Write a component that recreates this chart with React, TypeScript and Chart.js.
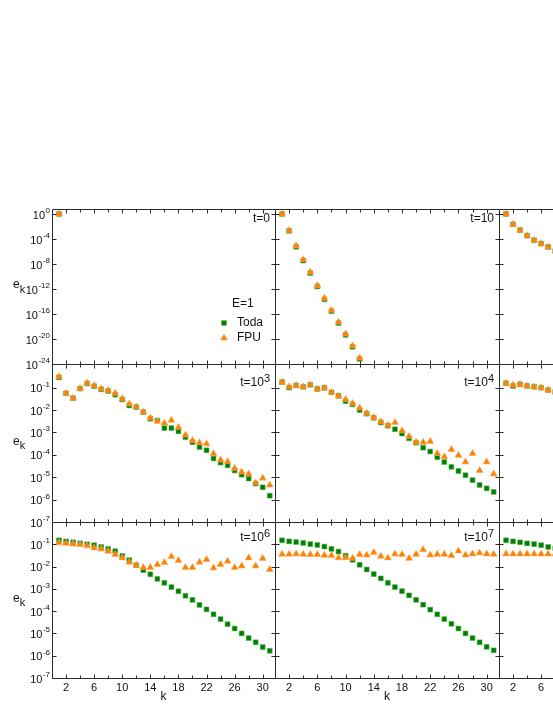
import React, { useEffect, useRef } from "react";
import { Chart, registerables } from "chart.js";

Chart.register(...registerables);

const FONT = '"Liberation Sans", Arial, Helvetica, sans-serif';

// ---------- data ----------
const modes = [1, 2, 3, 4, 5, 6, 7, 8, 9, 10, 11, 12, 13, 14, 15, 16, 17, 18, 19, 20, 21, 22, 23, 24, 25, 26, 27, 28, 29, 30, 31];

const xTickLabels = [2, 6, 10, 14, 18, 22, 26, 30];
const xMinorTicks = [4, 8, 12, 16, 20, 24, 28];
const topRowDecades = [0, -4, -8, -12, -16, -20, -24];
const lowerRowDecades = [-1, -2, -3, -4, -5, -6, -7];

const todaT0 = [1.0];
const fpuT0 = [1.0];

const todaT10 = [1.0, 2.0e-3, 5.6e-6, 3.5e-8, 3.5e-10, 2.5e-12, 2.2e-14, 2.8e-16, 3.5e-18, 4.5e-20, 5.6e-22, 6.3e-24];
const fpuT10 = [1.0, 2.2e-3, 7.9e-6, 5.0e-8, 5.0e-10, 3.5e-12, 3.2e-14, 4.0e-16, 5.0e-18, 6.3e-20, 7.9e-22, 8.9e-24];

const todaT1e2 = [1.0, 2.2e-2, 2.5e-3, 3.4e-4, 6.3e-5, 1.8e-5, 5.2e-6, 1.2e-6];
const fpuT1e2 = [1.0, 2.2e-2, 2.5e-3, 3.4e-4, 6.3e-5, 1.8e-5, 5.2e-6, 1.2e-6];

const todaT1e3 = [2.9e-1, 5.6e-2, 3.4e-2, 9.1e-2, 1.55e-1, 1.17e-1, 8.5e-2, 7.1e-2, 4.9e-2, 3.0e-2, 1.6e-2, 1.35e-2, 8.1e-3, 4.1e-3, 3.4e-3, 1.58e-3, 1.58e-3, 1.12e-3, 6.2e-4, 3.7e-4, 2.24e-4, 1.6e-4, 6.9e-5, 4.5e-5, 3.4e-5, 2.0e-5, 1.3e-5, 8.7e-6, 5.2e-6, 3.55e-6, 1.5e-6];
const fpuT1e3 = [3.1e-1, 5.6e-2, 3.4e-2, 9.3e-2, 1.62e-1, 1.23e-1, 9.1e-2, 7.6e-2, 5.6e-2, 3.2e-2, 1.9e-2, 1.4e-2, 8.3e-3, 4.4e-3, 3.2e-3, 2.6e-3, 3.5e-3, 1.7e-3, 7.8e-4, 4.4e-4, 3.5e-4, 3.1e-4, 1.12e-4, 5.9e-5, 5.0e-5, 2.5e-5, 1.7e-5, 1.4e-5, 5.6e-6, 9.1e-6, 4.5e-6];

const todaT1e4 = [1.78e-1, 1.02e-1, 1.26e-1, 1.1e-1, 1.35e-1, 8.7e-2, 9.8e-2, 6.2e-2, 4.3e-2, 2.5e-2, 1.8e-2, 1.0e-2, 6.9e-3, 4.5e-3, 2.8e-3, 2.0e-3, 1.4e-3, 8.9e-4, 5.5e-4, 3.5e-4, 2.1e-4, 1.41e-4, 7.9e-5, 4.8e-5, 2.9e-5, 1.9e-5, 1.23e-5, 7.4e-6, 4.5e-6, 3.2e-6, 2.2e-6];
const fpuT1e4 = [1.78e-1, 1.1e-1, 1.26e-1, 1.1e-1, 1.35e-1, 8.7e-2, 9.8e-2, 6.2e-2, 4.3e-2, 3.0e-2, 2.0e-2, 1.23e-2, 7.2e-3, 4.7e-3, 3.0e-3, 2.1e-3, 2.8e-3, 1.2e-3, 6.6e-4, 3.7e-4, 3.7e-4, 4.0e-4, 1.15e-4, 8.3e-5, 1.74e-4, 9.5e-5, 4.8e-5, 1.15e-4, 2.0e-5, 4.8e-5, 1.4e-5];

const todaT1e5 = [1.58e-1, 1.2e-1, 1.41e-1, 1.2e-1, 1.1e-1, 1.0e-1, 7.9e-2, 6.5e-2];
const fpuT1e5 = [1.58e-1, 1.32e-1, 1.41e-1, 1.2e-1, 1.1e-1, 1.0e-1, 7.9e-2, 6.5e-2];

const todaT1e6 = [1.51e-1, 1.35e-1, 1.23e-1, 1.1e-1, 1.0e-1, 9.1e-2, 7.6e-2, 6.2e-2, 4.9e-2, 3.0e-2, 1.95e-2, 1.15e-2, 6.9e-3, 4.5e-3, 2.8e-3, 1.86e-3, 1.2e-3, 7.8e-4, 4.9e-4, 3.2e-4, 1.9e-4, 1.2e-4, 7.2e-5, 4.4e-5, 2.6e-5, 1.66e-5, 1.0e-5, 6.2e-6, 4.0e-6, 2.45e-6, 1.66e-6];
const fpuT1e6 = [1.17e-1, 1.1e-1, 1.02e-1, 9.8e-2, 8.7e-2, 6.9e-2, 6.2e-2, 4.9e-2, 3.5e-2, 2.45e-2, 1.58e-2, 1.15e-2, 9.1e-3, 9.1e-3, 1.23e-2, 1.51e-2, 2.8e-2, 1.86e-2, 9.1e-3, 9.1e-3, 1.58e-2, 2.1e-2, 8.7e-3, 1.23e-2, 1.74e-2, 9.1e-3, 1.07e-2, 2.45e-2, 1.07e-2, 2.3e-2, 7.4e-3];

const todaT1e7 = [1.51e-1, 1.35e-1, 1.26e-1, 1.15e-1, 1.02e-1, 9.3e-2, 7.9e-2, 6.2e-2, 4.7e-2, 3.1e-2, 2.0e-2, 1.2e-2, 7.4e-3, 4.6e-3, 2.95e-3, 1.86e-3, 1.2e-3, 7.9e-4, 5.1e-4, 3.2e-4, 1.95e-4, 1.17e-4, 7.2e-5, 4.4e-5, 2.7e-5, 1.66e-5, 1.0e-5, 6.2e-6, 4.0e-6, 2.5e-6, 1.74e-6];
const fpuT1e7 = [3.55e-2, 3.55e-2, 3.7e-2, 3.55e-2, 3.47e-2, 3.47e-2, 3.24e-2, 3.1e-2, 2.5e-2, 2.5e-2, 2.34e-2, 3.47e-2, 3.3e-2, 4.3e-2, 2.9e-2, 2.45e-2, 3.7e-2, 3.47e-2, 2.34e-2, 3.55e-2, 5.75e-2, 3.3e-2, 3.55e-2, 3.55e-2, 3.1e-2, 5.0e-2, 3.3e-2, 3.7e-2, 4.1e-2, 3.7e-2, 3.55e-2];

const todaT1e8 = [1.51e-1, 1.35e-1, 1.23e-1, 1.1e-1, 1.02e-1, 9.1e-2, 7.6e-2, 6.6e-2];
const fpuT1e8 = [3.7e-2, 3.7e-2, 3.7e-2, 3.7e-2, 3.7e-2, 3.7e-2, 3.7e-2, 3.7e-2];

const panels = [
  { row: 0, col: 0, base: "t=0", exp: "", toda: todaT0, fpu: fpuT0 },
  { row: 0, col: 1, base: "t=10", exp: "", toda: todaT10, fpu: fpuT10 },
  { row: 0, col: 2, base: "t=10", exp: "2", toda: todaT1e2, fpu: fpuT1e2 },
  { row: 1, col: 0, base: "t=10", exp: "3", toda: todaT1e3, fpu: fpuT1e3 },
  { row: 1, col: 1, base: "t=10", exp: "4", toda: todaT1e4, fpu: fpuT1e4 },
  { row: 1, col: 2, base: "t=10", exp: "5", toda: todaT1e5, fpu: fpuT1e5 },
  { row: 2, col: 0, base: "t=10", exp: "6", toda: todaT1e6, fpu: fpuT1e6 },
  { row: 2, col: 1, base: "t=10", exp: "7", toda: todaT1e7, fpu: fpuT1e7 },
  { row: 2, col: 2, base: "t=10", exp: "8", toda: todaT1e8, fpu: fpuT1e8 },
];

// ---------- layout ----------
const CANVAS_W = 760;
const CANVAS_H = 715;
const colLeft = [52, 275, 499];
const colRight = [275, 499, 722];
const rowTop = [209, 364, 522];
const rowBottom = [364, 522, 678];
const yMinByRow = [1e-24, 1e-7, 1e-7];
const yMaxByRow = [6.3, 1.15, 1.0];
const titleOffset = [10, 19, 15.5];

const GREEN = "#008000";
const GREEN_EDGE = "rgba(70,170,70,0.55)";
const ORANGE = "#ff8000";
const ORANGE_EDGE = "rgba(255,170,90,0.6)";
const LINE = "#2b2b2b";
const TEXT = "#111";

function toPoints(values: number[]) {
  return values.map((v, i) => ({ x: modes[i], y: v }));
}

function makeDeco(p: any) {
  return {
    id: "deco",
    afterDraw(chart: any) {
      const ctx = chart.ctx;
      const a = chart.chartArea;
      const xs = chart.scales.x;
      const ys = chart.scales.y;
      const decades = p.row === 0 ? topRowDecades : lowerRowDecades;
      ctx.save();
      ctx.strokeStyle = LINE;
      ctx.lineWidth = 1;
      const L = a.left + 0.5;
      const R = a.right + 0.5;
      const T = a.top + 0.5;
      const B = a.bottom + 0.5;
      ctx.beginPath();
      ctx.rect(L, T, R - L, B - T);
      const allX = [...xTickLabels.map((v) => [v, 4]), ...xMinorTicks.map((v) => [v, 3])];
      for (const [v, len] of allX) {
        const px = Math.round(xs.getPixelForValue(v)) + 0.5;
        ctx.moveTo(px, B);
        ctx.lineTo(px, B - len);
        ctx.moveTo(px, T);
        ctx.lineTo(px, T + len);
      }
      for (const d of decades) {
        const py = Math.round(ys.getPixelForValue(Math.pow(10, d))) + 0.5;
        ctx.moveTo(L, py);
        ctx.lineTo(L + 4, py);
        ctx.moveTo(R, py);
        ctx.lineTo(R - 4, py);
      }
      ctx.stroke();

      ctx.fillStyle = TEXT;
      // y tick labels + axis title
      if (p.col === 0) {
        for (const d of decades) {
          const py = ys.getPixelForValue(Math.pow(10, d));
          const expStr = String(d);
          ctx.font = `8px ${FONT}`;
          const ew = ctx.measureText(expStr).width;
          ctx.textAlign = "right";
          ctx.textBaseline = "alphabetic";
          ctx.fillText(expStr, a.left - 2, py - 1);
          ctx.font = `11px ${FONT}`;
          ctx.textBaseline = "middle";
          ctx.fillText("10", a.left - 2 - ew - 0.5, py + 1.5);
        }
        const cy = (a.top + a.bottom) / 2;
        ctx.textAlign = "left";
        ctx.textBaseline = "middle";
        ctx.font = `12px ${FONT}`;
        ctx.fillText("e", 13, cy - 1.5);
        const ewe = ctx.measureText("e").width;
        ctx.font = `11px ${FONT}`;
        ctx.fillText("k", 13 + ewe, cy + 3);
      }
      // x tick labels + axis title
      if (p.row === 2) {
        ctx.textAlign = "center";
        ctx.textBaseline = "middle";
        ctx.font = `11px ${FONT}`;
        for (const v of xTickLabels) {
          ctx.fillText(String(v), xs.getPixelForValue(v), a.bottom + 10);
        }
        ctx.font = `12px ${FONT}`;
        ctx.fillText("k", (a.left + a.right) / 2, a.bottom + 19);
      }
      // panel title
      {
        let right = a.right - 5;
        const by = a.top + titleOffset[p.row];
        ctx.textAlign = "right";
        ctx.textBaseline = "middle";
        if (p.exp) {
          ctx.font = `11px ${FONT}`;
          const ew = ctx.measureText(p.exp).width;
          ctx.fillText(p.exp, right, by - 4);
          right -= ew;
        }
        ctx.font = `12px ${FONT}`;
        ctx.fillText(p.base, right, by);
      }
      // legend
      if (p.row === 0 && p.col === 0) {
        ctx.textAlign = "left";
        ctx.textBaseline = "middle";
        ctx.font = `12px ${FONT}`;
        ctx.fillText("E=1", a.left + 180, a.top + 95);
        ctx.fillText("Toda", a.left + 185, a.top + 114);
        ctx.fillText("FPU", a.left + 185, a.top + 129);
        const mx = a.left + 172;
        // square marker
        const sy = a.top + 114;
        ctx.fillStyle = GREEN;
        ctx.strokeStyle = GREEN_EDGE;
        ctx.beginPath();
        ctx.rect(mx - 2.4, sy - 2.4, 4.8, 4.8);
        ctx.fill();
        ctx.stroke();
        // triangle marker
        const ty = a.top + 129;
        ctx.fillStyle = ORANGE;
        ctx.strokeStyle = ORANGE_EDGE;
        ctx.beginPath();
        ctx.moveTo(mx, ty - 4);
        ctx.lineTo(mx + 3.46, ty + 2);
        ctx.lineTo(mx - 3.46, ty + 2);
        ctx.closePath();
        ctx.fill();
        ctx.stroke();
      }
      ctx.restore();
    },
  };
}

function Panel({ p }: { p: any }) {
  const ref = useRef<HTMLCanvasElement | null>(null);
  useEffect(() => {
    if (!ref.current) return;
    const chart = new Chart(ref.current, {
      type: "scatter",
      data: {
        datasets: [
          {
            label: "FPU",
            data: toPoints(p.fpu),
            pointStyle: "triangle",
            pointRadius: 4,
            pointBackgroundColor: ORANGE,
            pointBorderColor: ORANGE_EDGE,
            pointBorderWidth: 1,
            order: 0,
          },
          {
            label: "Toda",
            data: toPoints(p.toda),
            pointStyle: "rect",
            pointRadius: 3.4,
            pointBackgroundColor: GREEN,
            pointBorderColor: GREEN_EDGE,
            pointBorderWidth: 1,
            order: 1,
          },
        ],
      } as any,
      options: {
        responsive: false,
        animation: false,
        events: [],
        layout: {
          padding: {
            left: colLeft[p.col],
            right: CANVAS_W - colRight[p.col],
            top: rowTop[p.row],
            bottom: CANVAS_H - rowBottom[p.row],
          },
        },
        plugins: {
          legend: { display: false },
          tooltip: { enabled: false },
          title: { display: false },
        },
        scales: {
          x: { type: "linear", min: 0, max: 31.75, display: false },
          y: { type: "logarithmic", min: yMinByRow[p.row], max: yMaxByRow[p.row], display: false },
        },
      } as any,
      plugins: [makeDeco(p)],
    });
    return () => chart.destroy();
  }, [p]);
  return (
    <canvas
      ref={ref}
      width={CANVAS_W}
      height={CANVAS_H}
      style={{ position: "absolute", left: 0, top: 0, width: CANVAS_W, height: CANVAS_H }}
    />
  );
}

export default function App() {
  return (
    <div
      style={{
        position: "fixed",
        left: 0,
        top: 0,
        width: 553,
        height: 715,
        overflow: "hidden",
        background: "#fff",
      }}
    >
      {panels.map((p, i) => (
        <Panel key={i} p={p} />
      ))}
    </div>
  );
}
